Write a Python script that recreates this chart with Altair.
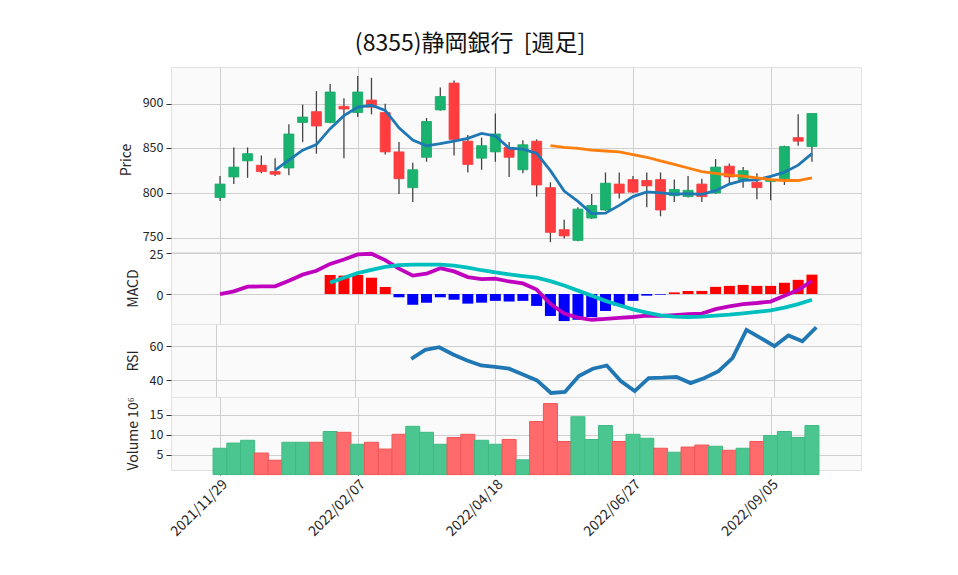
import altair as alt
import pandas as pd

FONT = "Noto Sans CJK JP"

# ---- data (weekly, 44 weeks) ----
weeks = list(range(44))
tick_idx = [0, 10, 20, 30, 40]
tick_labels = ["2021/11/29", "2022/02/07", "2022/04/18", "2022/06/27", "2022/09/05"]

opens = [795, 818, 836, 831, 824, 828, 879, 891, 879, 897, 890, 904, 890, 846, 806, 840,
         893, 923, 858, 839, 846, 851, 826, 858, 806, 759, 747, 772, 781, 810, 815, 814,
         815, 797, 796, 810, 800, 830, 815, 812, 813, 816, 862, 852]
highs = [819, 851, 851, 842, 839, 877, 899, 914, 922, 906, 931, 929, 900, 857, 834, 884,
         918, 926, 865, 862, 889, 857, 859, 860, 812, 770, 784, 799, 823, 823, 819, 823,
         823, 815, 819, 816, 838, 833, 829, 822, 816, 853, 888, 889]
lows = [791, 810, 817, 822, 819, 820, 857, 844, 878, 839, 885, 888, 843, 799, 790, 835,
        892, 842, 823, 826, 835, 818, 822, 796, 745, 749, 746, 771, 780, 794, 800, 784,
        774, 790, 795, 790, 799, 810, 806, 793, 792, 809, 853, 835]
closes = [810, 829, 844, 824, 821, 866, 885, 875, 913, 894, 913, 896, 846, 816, 826, 880,
          908, 860, 832, 853, 866, 840, 854, 809, 756, 752, 782, 786, 811, 800, 801, 808,
          781, 804, 803, 796, 829, 818, 825, 806, 815, 852, 858, 889]
volumes = [6.6, 7.9, 8.6, 5.4, 3.6, 8.1, 8.1, 8.1, 10.8, 10.6, 7.6, 8.1, 6.4, 10.1, 12.1, 10.6,
           7.6, 9.3, 10.1, 8.6, 7.6, 8.8, 3.7, 13.3, 17.8, 8.3, 14.5, 8.8, 12.3, 8.3, 10.1, 9.1,
           6.6, 5.6, 6.9, 7.4, 7.1, 6.1, 6.6, 8.3, 9.8, 10.8, 9.3, 12.3]

ma5_start = 4
ma5 = [825.6, 836.8, 848.0, 854.2, 872.0, 886.6, 896.0, 898.2, 892.4, 873.0, 859.4, 852.8,
       855.2, 858.0, 861.2, 866.6, 863.8, 850.2, 849.0, 844.4, 825.0, 802.2, 790.6, 777.0,
       777.4, 786.2, 796.0, 801.2, 800.2, 798.8, 799.4, 798.4, 802.6, 810.0, 814.2, 814.8,
       818.6, 823.2, 831.2, 844.0]
ma25_start = 24
ma25 = [853, 851, 850, 848, 847, 846, 843, 840, 836, 832, 828, 824, 822, 820, 819, 817,
        815, 814, 814, 817]

macd = [0, 1.6, 4.5, 4.7, 4.7, 8.2, 11.9, 14.3, 18.5, 21.2, 24.3, 24.7, 20.8, 15.6, 11.3,
        12.5, 15.9, 13.9, 10.4, 9.2, 9.5, 7.7, 6.5, 2.7, -6.0, -12.0, -14.5, -15.8, -15.2,
        -14.7, -14.1, -13.3, -13.4, -12.9, -12.3, -12.0, -9.3, -7.6, -6.2, -5.5, -4.6, -1.0,
        2.5, 8.0]
signal_start = 8
signal = [7.0, 10.0, 12.8, 14.8, 16.7, 17.7, 18.0, 18.0, 18.0, 17.5, 16.2, 14.6, 13.3, 12.1,
          11.0, 10.0, 7.9, 5.2, 2.1, -1.0, -4.2, -6.9, -9.4, -11.4, -13.1, -13.9, -14.1,
          -13.9, -13.3, -12.7, -11.9, -11.0, -10.0, -8.3, -6.2, -3.5]
hist_start = 8
hist = [11.7, 11.3, 11.7, 10.0, 4.3, -2.0, -6.6, -5.3, -2.0, -3.5, -5.9, -5.3, -4.2, -4.6,
        -4.2, -7.3, -13.5, -16.6, -15.8, -14.1, -10.4, -7.3, -4.2, -1.0, -0.4, 1.0, 1.9, 1.9,
        4.4, 5.0, 5.6, 5.0, 5.0, 6.9, 8.7, 11.9]
rsi_start = 14
rsi = [52.5, 57.8, 59.4, 55.1, 51.6, 48.6, 47.8, 46.7, 43.3, 39.8, 32.4, 33.0, 42.4, 46.7,
       48.6, 39.4, 33.5, 41.2, 41.4, 41.8, 38.2, 41.2, 45.3, 52.9, 69.6, 64.9, 60.0, 66.3,
       62.9, 71.2]

# ---- tables ----
candles = pd.DataFrame({"i": weeks, "open": opens, "high": highs, "low": lows,
                        "close": closes, "vol": volumes})
candles["dir"] = ["up" if c >= o else "down" for o, c in zip(opens, closes)]
candles["vdir"] = ["up"] + ["up" if closes[k] >= closes[k - 1] else "down"
                            for k in range(1, len(closes))]
ma5_df = pd.DataFrame({"i": weeks[ma5_start:], "v": ma5})
ma25_df = pd.DataFrame({"i": weeks[ma25_start:], "v": ma25})
macd_df = pd.DataFrame({"i": weeks, "v": macd})
sig_df = pd.DataFrame({"i": weeks[signal_start:], "v": signal})
hist_df = pd.DataFrame({"i": weeks[hist_start:], "v": hist})
hist_df["sgn"] = ["pos" if v >= 0 else "neg" for v in hist]
rsi_df = pd.DataFrame({"i": weeks[rsi_start:], "v": rsi})

W = 690
X_DOMAIN = [-3.2, 46.2]
xscale = alt.Scale(domain=X_DOMAIN, nice=False, zero=False)
label_expr = ("[" + ",".join(f"'{s}'" for s in tick_labels) + "][indexof("
              + str(tick_idx) + ", datum.value)]")

x_hidden = alt.X("i:Q", scale=xscale,
                 axis=alt.Axis(values=tick_idx, labels=False, ticks=False, domain=False,
                               title=None, grid=True, minExtent=0, maxExtent=0))
x_bottom = alt.X("i:Q", scale=xscale,
                 axis=alt.Axis(values=tick_idx, labelExpr=label_expr, labelAngle=-45,
                               labelAlign="right", labelBaseline="top", tickSize=5,
                               domain=False, title=None, grid=True, labelPadding=2,
                               labelFontSize=14))


def yaxis(vals, title, shift=0):
    return alt.Axis(values=vals, title=title, tickSize=5, domain=False, grid=True,
                    labelPadding=3, titlePadding=9, titleFontWeight=400,
                    labelOffset=shift)


GREEN = "#19b26f"
RED = "#ff3d3f"

# ---- price panel ----
ysc_p = alt.Scale(domain=[734, 941], nice=False, zero=False)
wick = alt.Chart(candles).mark_rule(color="#444444", strokeWidth=1.3).encode(
    x=x_hidden,
    y=alt.Y("low:Q", scale=ysc_p, axis=yaxis([750, 800, 850, 900], "Price", -1)),
    y2="high:Q")
body = alt.Chart(candles).mark_bar(size=10, strokeWidth=0.8).encode(
    x=x_hidden,
    y=alt.Y("open:Q", scale=ysc_p),
    y2="close:Q",
    color=alt.Color("dir:N", scale=alt.Scale(domain=["up", "down"], range=[GREEN, RED]),
                    legend=None),
    stroke=alt.Stroke("dir:N", scale=alt.Scale(domain=["up", "down"],
                                               range=["#14a865", "#f23a3c"]), legend=None))
l5 = alt.Chart(ma5_df).mark_line(color="#1f77b4", strokeWidth=2.8).encode(
    x=x_hidden, y=alt.Y("v:Q", scale=ysc_p))
l25 = alt.Chart(ma25_df).mark_line(color="#ff7f0e", strokeWidth=2.8).encode(
    x=x_hidden, y=alt.Y("v:Q", scale=ysc_p))
price = alt.layer(wick, body, l5, l25).properties(width=W, height=185)

# ---- MACD panel ----
ysc_m = alt.Scale(domain=[-18.4, 25.8], nice=False, zero=False)
hbar = alt.Chart(hist_df).mark_bar(size=11).encode(
    x=x_hidden,
    y=alt.Y("v:Q", scale=ysc_m, axis=yaxis([0, 25], "MACD", 1)),
    y2=alt.datum(0),
    color=alt.Color("sgn:N", scale=alt.Scale(domain=["pos", "neg"],
                                             range=["#ff0000", "#0000ff"]), legend=None))
lm = alt.Chart(macd_df).mark_line(color="#bf00bf", strokeWidth=3.8).encode(
    x=x_hidden, y=alt.Y("v:Q", scale=ysc_m))
ls = alt.Chart(sig_df).mark_line(color="#00bfbf", strokeWidth=3.8).encode(
    x=x_hidden, y=alt.Y("v:Q", scale=ysc_m))
macd_panel = alt.layer(hbar, lm, ls).properties(width=W, height=72)

# ---- RSI panel ----
ysc_r = alt.Scale(domain=[30.0, 73.1], nice=False, zero=False)
rsi_panel = alt.Chart(rsi_df).mark_line(color="#1f77b4", strokeWidth=3.8).encode(
    x=x_hidden, y=alt.Y("v:Q", scale=ysc_r, axis=yaxis([40, 60], "RSI"))
).properties(width=W, height=73)

# ---- Volume panel ----
ysc_v = alt.Scale(domain=[1.15, 19.45], nice=False, zero=False)
VH = 73
vol_panel = alt.Chart(candles).mark_bar(size=14, strokeWidth=1).encode(
    x=x_bottom,
    y=alt.Y("vol:Q", scale=ysc_v, axis=yaxis([5, 10, 15], "Volume  10⁶")),
    y2=alt.value(VH),
    color=alt.Color("vdir:N", scale=alt.Scale(domain=["up", "down"],
                                              range=["#4cc690", "#ff6b6c"]), legend=None),
    stroke=alt.Stroke("vdir:N", scale=alt.Scale(domain=["up", "down"],
                                                range=["#3fba83", "#f25556"]), legend=None)
).properties(width=W, height=VH)

chart = alt.vconcat(price, macd_panel, rsi_panel, vol_panel, spacing=0,
                    bounds="flush").resolve_scale(
    color="independent", stroke="independent"
).properties(
    title=alt.TitleParams("(8355)静岡銀行\u00a0\u00a0[週足]", font=FONT, fontSize=23,
                          fontWeight=400, color="#111111", anchor="middle",
                          frame="bounds", dx=-20, offset=11),
    padding={"left": 110, "top": 24, "right": 10, "bottom": 5},
    background="white",
).configure_view(
    fill="#fafafa", stroke="#e2e2e2"
).configure_axis(
    labelFont=FONT, titleFont=FONT, labelFontSize=12.5, titleFontSize=14,
    labelColor="#262626", titleColor="#262626", titleFontWeight=400,
    gridColor="#cfcfcf", gridWidth=1, tickColor="#333333"
)

chart.save("out.html", embed_options={"renderer": "svg", "actions": False})
